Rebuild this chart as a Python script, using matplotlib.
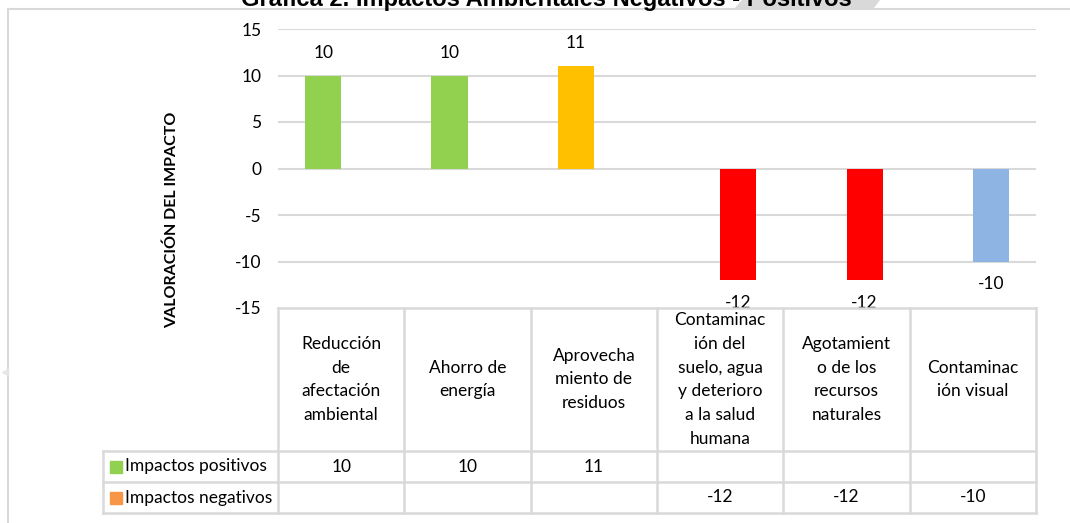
import numpy as np
import matplotlib
matplotlib.use("Agg")
import matplotlib.pyplot as plt
from matplotlib.lines import Line2D
from matplotlib.patches import Polygon

# data
categories = [
    "Reducción\nde\nafectación\nambiental",
    "Ahorro de\nenergía",
    "Aprovecha\nmiento de\nresiduos",
    "Contaminac\nión del\nsuelo, agua\ny deterioro\na la salud\nhumana",
    "Agotamient\no de los\nrecursos\nnaturales",
    "Contaminac\nión visual",
]
positivos = [10, 10, 11, None, None, None]
negativos = [None, None, None, -12, -12, -10]
series_names = ["Impactos positivos", "Impactos negativos"]
series_colors = ["#92D050", "#F79646"]
pos_bar_colors = ["#92D050", "#92D050", "#FFC000", None, None, None]
neg_bar_colors = [None, None, None, "#FF0000", "#FF0000", "#8EB4E3"]
yticks = [-15, -10, -5, 0, 5, 10, 15]

W, H = 1070, 523
plt.rcParams['font.family'] = ['Lato', 'DejaVu Sans']
plt.rcParams['axes.unicode_minus'] = False
FS = 12.5
GRID = "#D9D9D9"

fig = plt.figure(figsize=(W / 100, H / 100), dpi=100)


def box(x0, y0, x1, y1):
    # pixel box (from top-left) -> figure fraction rect
    return [x0 / W, 1 - y1 / H, (x1 - x0) / W, (y1 - y0) / H]


# outer frame of the chart area
fig.add_artist(Line2D([8 / W, 8 / W], [0, 1 - 9 / H], color=GRID, lw=1.5))
fig.add_artist(Line2D([8 / W, 1], [1 - 9 / H, 1 - 9 / H], color=GRID, lw=1.5))
fig.add_artist(Line2D([5 / W], [1 - 372 / H], marker="<", ms=5, color="#E6E6E6", lw=0))

# grey tab behind the title
fig.add_artist(Polygon([(742 / W, 1), (880 / W, 1), (874 / W, 1 - 8 / H), (735 / W, 1 - 8 / H)],
                       closed=True, transform=fig.transFigure, facecolor="#D9D9D9",
                       edgecolor="none", zorder=0))
fig.text(546 / W, 1 - 6 / H, "Gráfica 2. Impactos Ambientales Negativos - Positivos",
         ha="center", va="baseline", fontsize=17, fontweight="bold",
         family="Liberation Sans", zorder=2)

# bar chart
ax = fig.add_axes(box(278, 29, 1036, 308))
x = np.arange(len(categories))
bw = 0.285
for i in range(len(categories)):
    if positivos[i] is not None:
        ax.bar(x[i] - bw / 2, positivos[i], bw, color=pos_bar_colors[i], zorder=3)
        ax.annotate(str(positivos[i]), (x[i] - bw / 2, positivos[i]), xytext=(0, 16.5),
                    textcoords="offset points", ha="center", va="center", fontsize=FS)
    if negativos[i] is not None:
        ax.bar(x[i] + bw / 2, negativos[i], bw, color=neg_bar_colors[i], zorder=3)
        ax.annotate(str(negativos[i]), (x[i] + bw / 2, negativos[i]), xytext=(0, -16.5),
                    textcoords="offset points", ha="center", va="center", fontsize=FS)

ax.set_xlim(-0.5, len(categories) - 0.5)
ax.set_ylim(-15, 15)
ax.set_yticks(yticks)
ax.set_xticks([])
for t in yticks[1:]:
    ax.axhline(t, color=GRID, lw=1.5, zorder=1)
for s in ax.spines.values():
    s.set_visible(False)
ax.tick_params(axis="y", length=0, pad=12, labelsize=FS)
ax.patch.set_alpha(0)

fig.text(172 / W, 1 - 220 / H, "VALORACIÓN DEL IMPACTO", rotation=90, ha="center",
         va="center", fontsize=11.5, fontweight="bold")

# data table under the chart
tax = fig.add_axes(box(278, 308, 1036, 513))
tax.set_xlim(-0.5, len(categories) - 0.5)
tax.set_ylim(513, 308)
tax.axis("off")
leg_left = -0.5 - (278 - 103) / ((1036 - 278) / len(categories))
rows = [308, 451, 482, 513]

kw = dict(color=GRID, lw=1.8, clip_on=False, solid_capstyle="projecting")
tax.plot([-0.5, len(categories) - 0.5], [rows[0]] * 2, **kw)
for r in rows[1:]:
    tax.plot([leg_left, len(categories) - 0.5], [r, r], **kw)
for c in range(len(categories) + 1):
    tax.plot([c - 0.5] * 2, [rows[0], rows[-1]], **kw)
tax.plot([leg_left] * 2, [rows[1], rows[-1]], **kw)

for i, cat in enumerate(categories):
    tax.text(x[i], (rows[0] + rows[1]) / 2, cat, ha="center", va="center",
             fontsize=FS, linespacing=1.6)

for k, (name, vals) in enumerate(zip(series_names, [positivos, negativos])):
    yc = (rows[k + 1] + rows[k + 2]) / 2
    tax.plot([leg_left + 0.1], [yc], marker="s", ms=8, color=series_colors[k],
             lw=0, clip_on=False)
    tax.text(leg_left + 0.175, yc, name, ha="left", va="center", fontsize=FS)
    for i, v in enumerate(vals):
        if v is not None:
            tax.text(x[i], yc, str(v), ha="center", va="center", fontsize=FS)

fig.savefig("out.png", dpi=100)
